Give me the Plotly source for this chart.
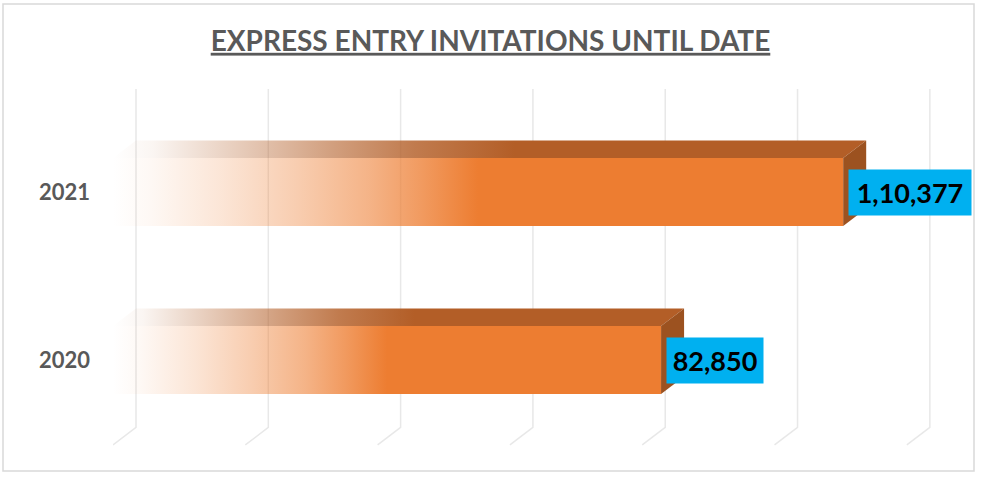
import plotly.graph_objects as go

# ---- data ----
categories = ["2020", "2021"]
invitations = [82850, 110377]
value_labels = ["82,850", "1,10,377"]
tick_values = [0, 20000, 40000, 60000, 80000, 100000, 120000]
title_text = "EXPRESS ENTRY INVITATIONS UNTIL DATE"

# ---- layout constants ----
W, H = 981, 479
L, R, T, B = 113, 8, 80, 29
XMAX = 130000
plot_w = W - L - R
plot_h = H - T - B
px_per_x = plot_w / XMAX
Y0, Y1 = -0.5357, 1.6667
px_per_y = plot_h / (Y1 - Y0)

DX = 23 / px_per_x          # 3-D depth, horizontal (data units)
DY = 17.5 / px_per_y        # 3-D depth, vertical (data units)
HALF = 34 / px_per_y        # half bar thickness
FLOOR = Y0 + 0.03
GRID_TOP = 1.613

ORANGE = "237,125,49"
TOPC = "179,94,39"
SIDE = "#9C5220"

fig = go.Figure()

# gridlines (back wall verticals + floor diagonals)
gx, gy = [], []
for t in tick_values:
    gx += [t, t + DX, t + DX, None]
    gy += [FLOOR, FLOOR + DY, GRID_TOP, None]
fig.add_trace(go.Scatter(x=gx, y=gy, mode="lines",
                         line=dict(color="#E8E8E8", width=1.5),
                         hoverinfo="skip", showlegend=False))

def cs(rgb, stops):
    return [[p, f"rgba({rgb},{a})"] for p, a in stops]

front_stops = [(0, 0.0), (0.1, 0.05), (0.3, 0.2), (0.5, 0.38), (0.7, 0.58), (0.85, 0.78), (1, 1.0)]
top_stops = [(0, 0.0), (0.1, 0.06), (0.3, 0.3), (0.55, 0.6), (0.75, 0.82), (1, 1.0)]

for i, (cat, v) in enumerate(zip(categories, invitations)):
    yc = i
    # front face
    fig.add_trace(go.Scatter(
        x=[0, v, v, 0, 0], y=[yc - HALF, yc - HALF, yc + HALF, yc + HALF, yc - HALF],
        mode="lines", fill="toself", line=dict(width=0),
        fillgradient=dict(type="horizontal", start=0, stop=v * 0.5,
                          colorscale=cs(ORANGE, front_stops)),
        hoverinfo="skip", showlegend=False))
    # top face
    fig.add_trace(go.Scatter(
        x=[0, v, v + DX, DX, 0],
        y=[yc + HALF, yc + HALF, yc + HALF + DY, yc + HALF + DY, yc + HALF],
        mode="lines", fill="toself", line=dict(width=0),
        fillgradient=dict(type="horizontal", start=0, stop=v * 0.55,
                          colorscale=cs(TOPC, top_stops)),
        hoverinfo="skip", showlegend=False))
    # side face
    fig.add_trace(go.Scatter(
        x=[v, v + DX, v + DX, v, v],
        y=[yc - HALF, yc - HALF + DY, yc + HALF + DY, yc + HALF, yc - HALF],
        mode="lines", fill="toself", line=dict(width=0), fillcolor=SIDE,
        hoverinfo="skip", showlegend=False))

# data labels
for i, (v, lab) in enumerate(zip(invitations, value_labels)):
    fig.add_annotation(x=v, y=i, xref="x", yref="y", text=f"<b>{lab}</b>",
                       showarrow=False, xanchor="left", yanchor="middle",
                       xshift=5, bgcolor="#00B0F0", width=len(lab) * 13 + 16, height=43,
                       font=dict(family="Lato", size=27, color="#000000"))

# outer border
def paper_x(px):
    return (px - L) / plot_w
def paper_y(py):
    return (H - B - py) / plot_h
fig.add_shape(type="rect", xref="paper", yref="paper",
              x0=paper_x(3), x1=paper_x(974), y0=paper_y(471), y1=paper_y(4),
              line=dict(color="#D9D9D9", width=1.5), fillcolor="rgba(0,0,0,0)", layer="below")

fig.update_layout(
    width=W, height=H,
    margin=dict(l=L, r=R, t=T, b=B),
    paper_bgcolor="white", plot_bgcolor="white",
    title=dict(text=title_text, x=0.5, xref="container", xanchor="center",
               y=1 - 41 / H, yanchor="middle",
               font=dict(family="Lato", size=28, color="#595959", weight="bold",
                         lineposition="under")),
    xaxis=dict(range=[0, XMAX], showgrid=False, zeroline=False, showticklabels=False,
               showline=False, fixedrange=True),
    yaxis=dict(range=[Y0, Y1], tickvals=list(range(len(categories))), ticktext=categories,
               showgrid=False, zeroline=False, showline=False, ticks="",
               ticklabelstandoff=22,
               tickfont=dict(family="Lato", size=22, color="#595959", weight="bold"),
               fixedrange=True),
    showlegend=False,
)

fig.write_html("out.html", config={"displayModeBar": False},
               post_script="document.body.style.margin='0';")
